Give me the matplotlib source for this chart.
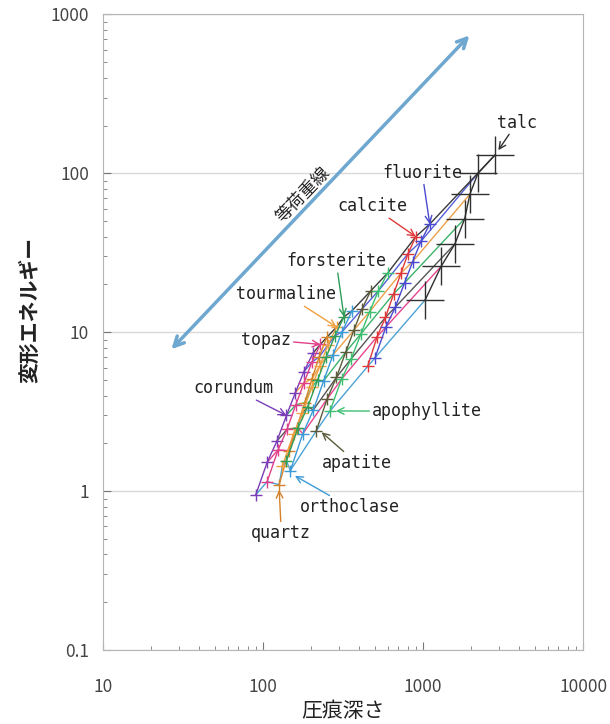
import matplotlib
matplotlib.use('Agg')
import matplotlib.pyplot as plt
from matplotlib.ticker import LogLocator, NullFormatter

plt.rcParams['font.family'] = ['Noto Sans CJK JP', 'DejaVu Sans']

# indentation depth (x) and deformation energy (y) for each mineral, one value per load step
corundum_h = [90, 106, 122, 140, 159, 180, 205]
corundum_w = [0.95, 1.52, 2.07, 3.0, 4.17, 5.66, 7.4]
topaz_h = [106, 124, 141, 160, 180, 202, 228]
topaz_w = [1.15, 1.82, 2.45, 3.5, 4.8, 6.5, 8.4]
quartz_h = [126, 145, 162, 182, 202, 224, 250]
quartz_w = [1.1, 1.8, 2.5, 3.6, 5.1, 7.0, 9.3]
tourmaline_h = [132, 155, 176, 201, 226, 254, 288]
tourmaline_w = [1.45, 2.3, 3.1, 4.5, 6.15, 8.3, 10.8]
forsterite_h = [140, 165, 190, 219, 248, 281, 320]
forsterite_w = [1.55, 2.5, 3.4, 5.0, 7.0, 9.5, 12.5]
orthoclase_h = [148, 177, 206, 239, 273, 312, 360]
orthoclase_w = [1.35, 2.3, 3.25, 4.95, 7.2, 10.1, 13.7]
apatite_h = [215, 251, 287, 328, 369, 415, 470]
apatite_w = [2.4, 3.8, 5.2, 7.5, 10.3, 14.0, 18.2]
apophyllite_h = [262, 309, 356, 409, 463, 525, 600]
apophyllite_w = [3.2, 5.07, 6.84, 9.8, 13.5, 18.2, 23.6]
calcite_h = [450, 516, 581, 655, 727, 805, 900]
calcite_w = [6.1, 9.4, 12.4, 17.5, 23.6, 31.3, 40]
fluorite_h = [500, 585, 670, 766, 861, 968, 1100]
fluorite_w = [6.9, 10.8, 14.4, 20.5, 27.9, 37.3, 48]
talc_h = [1030, 1295, 1580, 1820, 1960, 2200, 2800]
talc_w = [16, 26, 36, 52, 74, 100, 130]

minerals = ['corundum', 'topaz', 'quartz', 'tourmaline', 'forsterite', 'orthoclase',
            'apatite', 'apophyllite', 'calcite', 'fluorite', 'talc']
depths = [corundum_h, topaz_h, quartz_h, tourmaline_h, forsterite_h, orthoclase_h,
          apatite_h, apophyllite_h, calcite_h, fluorite_h, talc_h]
energies = [corundum_w, topaz_w, quartz_w, tourmaline_w, forsterite_w, orthoclase_w,
            apatite_w, apophyllite_w, calcite_w, fluorite_w, talc_w]

mineral_colors = ['#7a3db8', '#e0408a', '#d4822a', '#f0a040', '#2e9e58', '#3c9ad6',
                  '#5b5b3a', '#3cc070', '#e03838', '#4a4ad0', '#303030']
load_colors = ['#4ba3d6', '#e6458f', '#555555', '#3bb36a', '#eda04b', '#5560d8', '#3a3a3a']

x_ticks = [10, 100, 1000, 10000]
x_tick_labels = ['10', '100', '1000', '10000']
y_ticks = [0.1, 1, 10, 100, 1000]
y_tick_labels = ['0.1', '1', '10', '100', '1000']

fig = plt.figure(figsize=(6.1, 7.24), dpi=100)
ax = fig.add_axes([0.169, 0.102, 0.787, 0.878])
ax.set_xscale('log')
ax.set_yscale('log')
ax.set_xlim(10, 10000)
ax.set_ylim(0.1, 1000)

# iso-load lines: same load step across all minerals
for k, c in enumerate(load_colors):
    ax.plot([h[k] for h in depths], [w[k] for w in energies], color=c, lw=1, zorder=2)

# one curve per mineral, crosses at every measured point
for name, h, w, c in zip(minerals, depths, energies, mineral_colors):
    ms = 28 if name == 'talc' else 8
    ax.plot(h, w, color=c, lw=1, marker='+', ms=ms, mew=1, zorder=3)

# iso-load direction arrow
ax.annotate('', xy=(2000, 760), xytext=(26, 7.6),
            arrowprops=dict(arrowstyle='<->, head_length=0.7, head_width=0.35',
                            color='#6ea7cf', lw=2.5))
ax.text(178, 73, '等荷重線', rotation=46, fontsize=12.5, color='#222222',
        ha='center', va='center')

labels = [
    ('talc', (3868, 209), (2950, 140)),
    ('fluorite', (986, 101), (1100, 48)),
    ('calcite', (480, 62), (900, 40)),
    ('forsterite', (286, 28), (320, 12.5)),
    ('tourmaline', (139, 17.3), (288, 10.8)),
    ('topaz', (104, 9.0), (228, 8.4)),
    ('corundum', (65, 4.44), (140, 3.0)),
    ('apophyllite', (1059, 3.19), (285, 3.2)),
    ('apatite', (387, 1.5), (232, 2.35)),
    ('orthoclase', (350, 0.793), (158, 1.25)),
    ('quartz', (130, 0.544), (126, 1.02)),
]
for name, txt_pos, tip in labels:
    c = mineral_colors[minerals.index(name)]
    ax.annotate(name, xy=tip, xytext=txt_pos, ha='center', va='center',
                fontsize=12, family='DejaVu Sans Mono', color='#222222',
                arrowprops=dict(arrowstyle='->', color=c, lw=1, shrinkA=0, shrinkB=0))

ax.set_xticks(x_ticks, x_tick_labels)
ax.set_yticks(y_ticks, y_tick_labels)
ax.xaxis.set_minor_locator(LogLocator(base=10, subs=range(2, 10)))
ax.yaxis.set_minor_locator(LogLocator(base=10, subs=range(2, 10)))
ax.xaxis.set_minor_formatter(NullFormatter())
ax.yaxis.set_minor_formatter(NullFormatter())
ax.tick_params(which='both', direction='in', colors='#777777', labelcolor='#444444',
               labelsize=12.5, top=False, right=False)
ax.tick_params(which='major', length=6)
ax.tick_params(which='minor', length=3)
ax.tick_params(axis='x', which='major', pad=20)
ax.tick_params(axis='y', which='major', pad=10)

ax.yaxis.grid(True, which='major', color='#d9d9d9', lw=1)
ax.set_axisbelow(True)
for s in ax.spines.values():
    s.set_color('#b5b5b5')

ax.set_xlabel('圧痕深さ', fontsize=15, color='#222222', va='center')
ax.set_ylabel('変形エネルギー', fontsize=15, color='#222222', fontweight='bold', va='center')
ax.xaxis.set_label_coords(0.5, -0.095)
ax.yaxis.set_label_coords(-0.152, 0.535)

fig.savefig('out.png', dpi=100)
